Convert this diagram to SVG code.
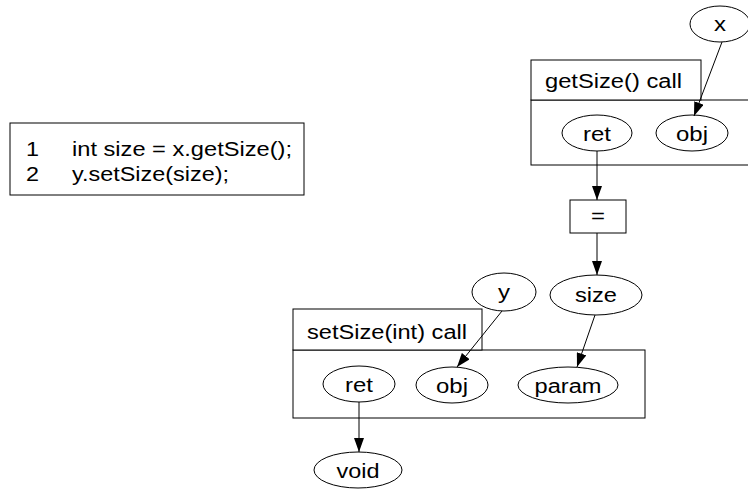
<svg xmlns="http://www.w3.org/2000/svg" width="748" height="491" viewBox="0 0 748 491">
<defs>
<style>
text{font-family:"Liberation Sans",Arial,sans-serif;font-size:20px;fill:#000}
.c{text-anchor:middle}
.s{fill:#fff;stroke:#000;stroke-width:1}
.e{fill:none;stroke:#000;stroke-width:1}
</style>
<marker id="a" markerWidth="14" markerHeight="10" refX="14" refY="5" orient="auto" markerUnits="userSpaceOnUse"><path d="M0,0 L14,5 L0,10 Z" fill="#000"/></marker>
</defs>
<rect width="748" height="491" fill="#fff"/>
<g id="code">
<rect class="s" x="10" y="123" width="294" height="72"/>
<text x="26" y="156" textLength="13" lengthAdjust="spacingAndGlyphs">1</text>
<text x="72" y="156" textLength="220" lengthAdjust="spacingAndGlyphs">int size = x.getSize();</text>
<text x="26" y="181" textLength="13" lengthAdjust="spacingAndGlyphs">2</text>
<text x="72" y="181" textLength="157" lengthAdjust="spacingAndGlyphs">y.setSize(size);</text>
</g>
<g id="getSizeCall">
<rect class="s" x="531" y="100" width="230" height="65"/>
<rect class="s" x="531" y="60" width="170" height="40"/>
<text x="545" y="88" textLength="137" lengthAdjust="spacingAndGlyphs">getSize() call</text>
</g>
<g id="setSizeCall">
<rect class="s" x="293" y="350" width="352" height="68"/>
<rect class="s" x="293" y="309" width="189" height="41"/>
<text x="307" y="339" textLength="160" lengthAdjust="spacingAndGlyphs">setSize(int) call</text>
</g>
<g id="x"><ellipse class="s" cx="720" cy="24" rx="30" ry="18"/><text class="c" x="720" y="31" textLength="12" lengthAdjust="spacingAndGlyphs">x</text></g>
<g id="ret1"><ellipse class="s" cx="597" cy="133" rx="35" ry="18"/><text class="c" x="597" y="141" textLength="28" lengthAdjust="spacingAndGlyphs">ret</text></g>
<g id="obj1"><ellipse class="s" cx="692" cy="133" rx="36" ry="18"/><text class="c" x="692" y="141" textLength="32" lengthAdjust="spacingAndGlyphs">obj</text></g>
<g id="assign"><rect class="s" x="570" y="200" width="56" height="33"/><text class="c" x="598" y="223" textLength="14" lengthAdjust="spacingAndGlyphs">=</text></g>
<g id="size"><ellipse class="s" cx="596" cy="295" rx="46" ry="20"/><text class="c" x="596" y="302" textLength="42" lengthAdjust="spacingAndGlyphs">size</text></g>
<g id="y"><ellipse class="s" cx="504" cy="292" rx="32" ry="19"/><text class="c" x="504" y="299" textLength="12" lengthAdjust="spacingAndGlyphs">y</text></g>
<g id="ret2"><ellipse class="s" cx="359" cy="384" rx="36" ry="18"/><text class="c" x="359" y="392" textLength="28" lengthAdjust="spacingAndGlyphs">ret</text></g>
<g id="obj2"><ellipse class="s" cx="452" cy="385" rx="36" ry="18"/><text class="c" x="452" y="393" textLength="32" lengthAdjust="spacingAndGlyphs">obj</text></g>
<g id="param"><ellipse class="s" cx="568" cy="385" rx="50" ry="18"/><text class="c" x="568" y="393" textLength="67" lengthAdjust="spacingAndGlyphs">param</text></g>
<g id="void"><ellipse class="s" cx="358" cy="470" rx="44" ry="18"/><text class="c" x="358" y="478" textLength="43" lengthAdjust="spacingAndGlyphs">void</text></g>
<g id="edges">
<line class="e" x1="722" y1="42" x2="694" y2="116" marker-end="url(#a)"/>
<line class="e" x1="597" y1="151" x2="597" y2="200" marker-end="url(#a)"/>
<line class="e" x1="597" y1="233" x2="597" y2="275" marker-end="url(#a)"/>
<line class="e" x1="595" y1="315" x2="577" y2="367" marker-end="url(#a)"/>
<line class="e" x1="502" y1="311" x2="457" y2="367" marker-end="url(#a)"/>
<line class="e" x1="359" y1="402" x2="359" y2="452" marker-end="url(#a)"/>
</g>
</svg>
